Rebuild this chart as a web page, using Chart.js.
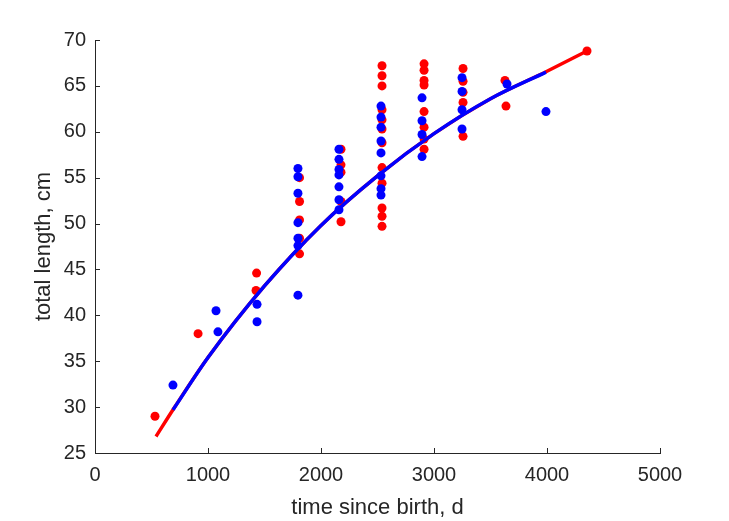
<!DOCTYPE html>
<html>
<head>
<meta charset="utf-8">
<script src="https://cdn.jsdelivr.net/npm/chart.js@4/dist/chart.umd.min.js"></script>
<style>
  body { margin: 0; background: #fff; }
</style>
</head>
<body>
<canvas id="myChart" width="729" height="521"></canvas>
<script>
// data
var redAge = [531, 912, 1430, 1425,
  1810, 1810, 1810, 1810, 1810,
  2177, 2177, 2177, 2177, 2177,
  2540, 2540, 2540, 2540, 2540, 2540, 2540, 2540, 2540, 2540, 2540, 2540,
  2912, 2912, 2912, 2912, 2912, 2912, 2912, 2912,
  3257, 3257, 3257, 3257, 3257,
  3628, 3637, 4354];
var redLength = [29.0, 38.0, 44.6, 42.7,
  55.0, 52.4, 50.4, 48.4, 46.7,
  58.1, 56.4, 55.6, 52.4, 50.2,
  67.2, 66.1, 65.0, 62.4, 61.3, 60.3, 58.8, 56.1, 54.4, 51.7, 50.8, 49.7,
  67.4, 66.7, 65.6, 65.1, 62.2, 60.5, 59.2, 58.1,
  66.9, 65.5, 64.3, 63.2, 59.5,
  65.6, 62.8, 68.8];

var blueAge = [690, 1071, 1088, 1434, 1434,
  1796, 1796, 1796, 1796, 1796, 1796, 1796,
  2159, 2159, 2159, 2159, 2159, 2159, 2159,
  2531, 2531, 2531, 2531, 2531, 2531, 2531, 2531,
  2894, 2894, 2894, 2894,
  3248, 3248, 3248, 3248,
  3646, 3991];
var blueLength = [32.4, 40.5, 38.2, 41.2, 39.3,
  56.0, 55.1, 53.3, 50.1, 48.4, 47.6, 42.2,
  58.1, 57.0, 55.9, 55.3, 54.0, 52.6, 51.5,
  62.8, 61.6, 60.5, 59.0, 57.7, 55.2, 53.8, 53.1,
  63.7, 61.2, 59.7, 57.3,
  65.9, 64.4, 62.4, 60.3,
  65.2, 62.2];

// fitted growth curves
var redFitAge = [540, 700, 1000, 1500, 2000, 2500, 3000, 3500, 4000, 4354];
var redFitLength = [26.8, 29.9, 35.4, 43.2, 49.8, 55.2, 59.8, 63.6, 66.6, 68.8];
var blueFitAge = [690, 1000, 1500, 2000, 2500, 3000, 3500, 3991];
var blueFitLength = [29.7, 35.4, 43.2, 49.8, 55.2, 59.8, 63.6, 66.5];

var xTicks = [0, 1000, 2000, 3000, 4000, 5000];
var yTicks = [25, 30, 35, 40, 45, 50, 55, 60, 65, 70];

function toPoints(xs, ys) {
    let pts = [];
    for (let i = 0; i < xs.length; i++) {
        pts.push({x: xs[i], y: ys[i]});
    }
    return pts;
}

var axisColor = '#262626';
var fontFamily = '"Liberation Sans", Arial, sans-serif';

// matlab style ticks pointing into the plot
var inwardTicks = {
    id: 'inwardTicks',
    beforeDatasetsDraw(chart) {
        const ctx = chart.ctx;
        const x = chart.scales.x;
        const y = chart.scales.y;
        ctx.save();
        ctx.strokeStyle = axisColor;
        ctx.lineWidth = 1;
        for (let v of xTicks) {
            let px = Math.round(x.getPixelForValue(v)) + 0.5;
            ctx.beginPath();
            ctx.moveTo(px, y.bottom);
            ctx.lineTo(px, y.bottom - 5);
            ctx.stroke();
        }
        for (let v of yTicks) {
            let py = Math.round(y.getPixelForValue(v)) + 0.5;
            ctx.beginPath();
            ctx.moveTo(x.left, py);
            ctx.lineTo(x.left + 5, py);
            ctx.stroke();
        }
        ctx.restore();
    }
};

// first dataset ends up on top, so list top layer first
var ctx = document.getElementById('myChart').getContext('2d');
var chart = new Chart(ctx, {
    type: 'scatter',
    data: {
        datasets: [
            {
                label: 'blue fit',
                data: toPoints(blueFitAge, blueFitLength),
                showLine: true,
                borderColor: '#0000ff',
                borderWidth: 3.5,
                pointRadius: 0,
                cubicInterpolationMode: 'monotone'
            },
            {
                label: 'blue data',
                data: toPoints(blueAge, blueLength),
                backgroundColor: '#0000ff',
                borderColor: '#0000ff',
                pointRadius: 4.5,
                pointBorderWidth: 0
            },
            {
                label: 'red fit',
                data: toPoints(redFitAge, redFitLength),
                showLine: true,
                borderColor: '#ff0000',
                borderWidth: 3.5,
                pointRadius: 0,
                cubicInterpolationMode: 'monotone'
            },
            {
                label: 'red data',
                data: toPoints(redAge, redLength),
                backgroundColor: '#ff0000',
                borderColor: '#ff0000',
                pointRadius: 4.5,
                pointBorderWidth: 0
            }
        ]
    },
    options: {
        responsive: false,
        animation: false,
        layout: { padding: { top: 40, right: 69, left: 0, bottom: 0 } },
        plugins: {
            legend: { display: false },
            tooltip: { enabled: false }
        },
        scales: {
            x: {
                type: 'linear',
                min: 0,
                max: 5000,
                afterBuildTicks: function(scale) {
                    scale.ticks = xTicks.map(v => ({value: v}));
                },
                afterFit: function(scale) { scale.height = 68; },
                grid: { drawOnChartArea: false, drawTicks: false },
                border: { display: true, color: axisColor, width: 1 },
                ticks: {
                    color: axisColor,
                    padding: 10,
                    maxRotation: 0,
                    callback: function(value) { return String(value); },
                    font: { family: fontFamily, size: 20 }
                },
                title: {
                    display: true,
                    text: 'time since birth, d',
                    color: axisColor,
                    padding: { top: 0, bottom: 0 },
                    font: { family: fontFamily, size: 22 }
                }
            },
            y: {
                type: 'linear',
                min: 25,
                max: 70,
                afterBuildTicks: function(scale) {
                    scale.ticks = yTicks.map(v => ({value: v}));
                },
                afterFit: function(scale) { scale.width = 95; },
                grid: { drawOnChartArea: false, drawTicks: false },
                border: { display: true, color: axisColor, width: 1 },
                ticks: {
                    color: axisColor,
                    padding: 9,
                    callback: function(value) { return String(value); },
                    font: { family: fontFamily, size: 20 }
                },
                title: {
                    display: true,
                    text: 'total length, cm',
                    color: axisColor,
                    padding: { top: 31, bottom: 0 },
                    font: { family: fontFamily, size: 22 }
                }
            }
        }
    },
    plugins: [inwardTicks]
});
</script>
</body>
</html>
